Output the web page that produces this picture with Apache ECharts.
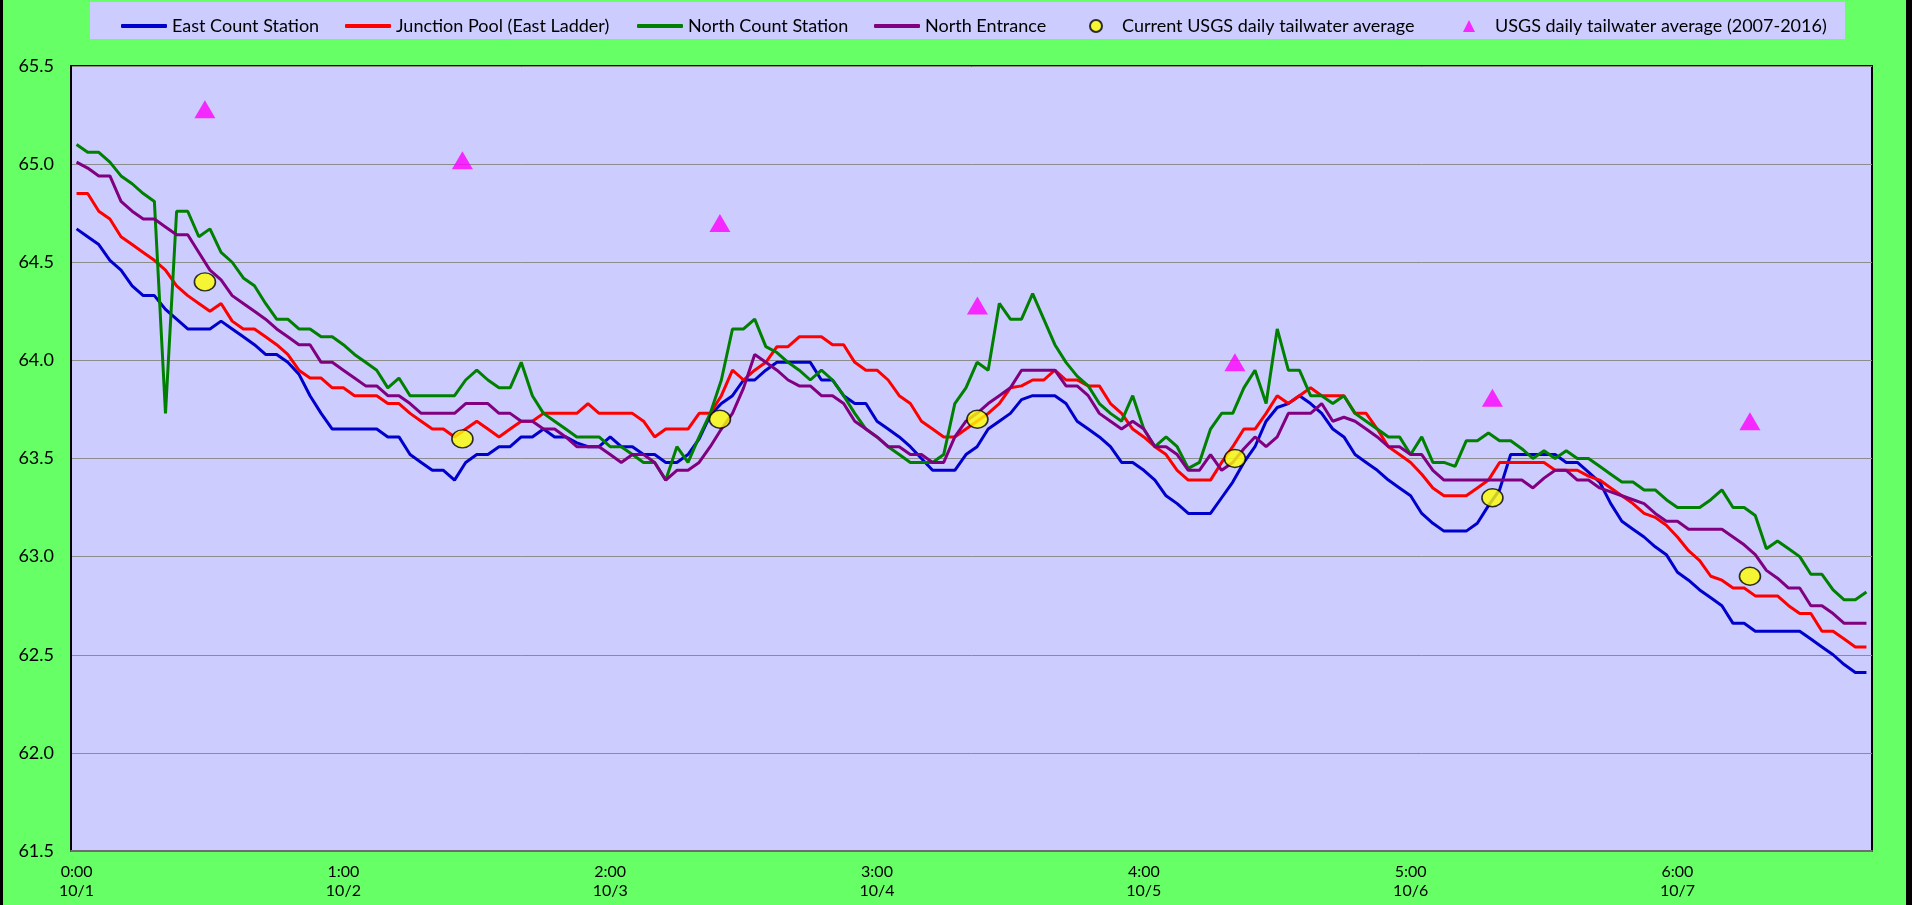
<!DOCTYPE html>
<html>
<head>
<meta charset="utf-8">
<script src="https://cdn.jsdelivr.net/npm/echarts/dist/echarts.min.js"></script>
<style>
  html, body { margin: 0; padding: 0; background: #000; }
  #chart { position: absolute; left: 3px; top: 0; width: 1903px; height: 905px; background: #66ff66; }
</style>
</head>
<body>
<div id="chart"></div>
<script>
// hourly readings, 10/1 0:00 onwards
const tickLabels = ['0:00\n10/1', '1:00\n10/2', '2:00\n10/3', '3:00\n10/4', '4:00\n10/5', '5:00\n10/6', '6:00\n10/7']
const dayIndex = [0, 1, 2, 3, 4, 5, 6]

const eastCount = [
  64.67, 64.63, 64.59, 64.51, 64.46, 64.38, 64.33, 64.33, 64.26, 64.21,
  64.16, 64.16, 64.16, 64.20, 64.16, 64.12, 64.08, 64.03, 64.03, 63.99,
  63.93, 63.82, 63.73, 63.65, 63.65, 63.65, 63.65, 63.65, 63.61, 63.61,
  63.52, 63.48, 63.44, 63.44, 63.39, 63.48, 63.52, 63.52, 63.56, 63.56,
  63.61, 63.61, 63.65, 63.61, 63.61, 63.58, 63.56, 63.56, 63.61, 63.56,
  63.56, 63.52, 63.52, 63.48, 63.48, 63.52, 63.60, 63.72, 63.78, 63.82,
  63.90, 63.90, 63.95, 63.99, 63.99, 63.99, 63.99, 63.90, 63.90, 63.82,
  63.78, 63.78, 63.69, 63.65, 63.61, 63.56, 63.50, 63.44, 63.44, 63.44,
  63.52, 63.56, 63.65, 63.69, 63.73, 63.80, 63.82, 63.82, 63.82, 63.78,
  63.69, 63.65, 63.61, 63.56, 63.48, 63.48, 63.44, 63.39, 63.31, 63.27,
  63.22, 63.22, 63.22, 63.30, 63.38, 63.48, 63.56, 63.69, 63.76, 63.78,
  63.82, 63.78, 63.73, 63.65, 63.61, 63.52, 63.48, 63.44, 63.39, 63.35,
  63.31, 63.22, 63.17, 63.13, 63.13, 63.13, 63.17, 63.26, 63.34, 63.52,
  63.52, 63.52, 63.52, 63.52, 63.48, 63.48, 63.43, 63.38, 63.27, 63.18,
  63.14, 63.10, 63.05, 63.01, 62.92, 62.88, 62.83, 62.79, 62.75, 62.66,
  62.66, 62.62, 62.62, 62.62, 62.62, 62.62, 62.58, 62.54, 62.50, 62.45,
  62.41, 62.41
]

const junctionPool = [
  64.85, 64.85, 64.76, 64.72, 64.63, 64.59, 64.55, 64.51, 64.46, 64.38,
  64.33, 64.29, 64.25, 64.29, 64.20, 64.16, 64.16, 64.12, 64.08, 64.03,
  63.95, 63.91, 63.91, 63.86, 63.86, 63.82, 63.82, 63.82, 63.78, 63.78,
  63.73, 63.69, 63.65, 63.65, 63.61, 63.65, 63.69, 63.65, 63.61, 63.65,
  63.69, 63.69, 63.73, 63.73, 63.73, 63.73, 63.78, 63.73, 63.73, 63.73,
  63.73, 63.69, 63.61, 63.65, 63.65, 63.65, 63.73, 63.73, 63.82, 63.95,
  63.90, 63.95, 63.99, 64.07, 64.07, 64.12, 64.12, 64.12, 64.08, 64.08,
  63.99, 63.95, 63.95, 63.90, 63.82, 63.78, 63.69, 63.65, 63.61, 63.61,
  63.65, 63.69, 63.73, 63.78, 63.86, 63.87, 63.90, 63.90, 63.95, 63.90,
  63.90, 63.87, 63.87, 63.78, 63.73, 63.65, 63.61, 63.56, 63.52, 63.44,
  63.39, 63.39, 63.39, 63.48, 63.56, 63.65, 63.65, 63.73, 63.82, 63.78,
  63.82, 63.86, 63.82, 63.82, 63.82, 63.73, 63.73, 63.65, 63.56, 63.52,
  63.48, 63.42, 63.35, 63.31, 63.31, 63.31, 63.35, 63.39, 63.48, 63.48,
  63.48, 63.48, 63.48, 63.44, 63.44, 63.44, 63.41, 63.39, 63.35, 63.31,
  63.27, 63.22, 63.20, 63.16, 63.10, 63.03, 62.98, 62.90, 62.88, 62.84,
  62.84, 62.80, 62.80, 62.80, 62.75, 62.71, 62.71, 62.62, 62.62, 62.58,
  62.54, 62.54
]

const northCount = [
  65.10, 65.06, 65.06, 65.01, 64.94, 64.90, 64.85, 64.81, 63.73, 64.76,
  64.76, 64.63, 64.67, 64.55, 64.50, 64.42, 64.38, 64.29, 64.21, 64.21,
  64.16, 64.16, 64.12, 64.12, 64.08, 64.03, 63.99, 63.95, 63.86, 63.91,
  63.82, 63.82, 63.82, 63.82, 63.82, 63.90, 63.95, 63.90, 63.86, 63.86,
  63.99, 63.82, 63.73, 63.69, 63.65, 63.61, 63.61, 63.61, 63.56, 63.56,
  63.52, 63.48, 63.48, 63.39, 63.56, 63.48, 63.61, 63.73, 63.90, 64.16,
  64.16, 64.21, 64.07, 64.04, 63.99, 63.95, 63.90, 63.95, 63.90, 63.82,
  63.73, 63.65, 63.61, 63.56, 63.52, 63.48, 63.48, 63.48, 63.52, 63.78,
  63.86, 63.99, 63.95, 64.29, 64.21, 64.21, 64.34, 64.21, 64.08, 63.99,
  63.92, 63.87, 63.78, 63.73, 63.69, 63.82, 63.65, 63.56, 63.61, 63.56,
  63.45, 63.48, 63.65, 63.73, 63.73, 63.86, 63.95, 63.78, 64.16, 63.95,
  63.95, 63.82, 63.82, 63.78, 63.82, 63.73, 63.69, 63.65, 63.61, 63.61,
  63.52, 63.61, 63.48, 63.48, 63.46, 63.59, 63.59, 63.63, 63.59, 63.59,
  63.55, 63.50, 63.54, 63.50, 63.54, 63.50, 63.50, 63.46, 63.42, 63.38,
  63.38, 63.34, 63.34, 63.29, 63.25, 63.25, 63.25, 63.29, 63.34, 63.25,
  63.25, 63.21, 63.04, 63.08, 63.04, 63.00, 62.91, 62.91, 62.83, 62.78,
  62.78, 62.82
]

const northEntrance = [
  65.01, 64.98, 64.94, 64.94, 64.81, 64.76, 64.72, 64.72, 64.68, 64.64,
  64.64, 64.55, 64.46, 64.41, 64.33, 64.29, 64.25, 64.21, 64.16, 64.12,
  64.08, 64.08, 63.99, 63.99, 63.95, 63.91, 63.87, 63.87, 63.82, 63.82,
  63.78, 63.73, 63.73, 63.73, 63.73, 63.78, 63.78, 63.78, 63.73, 63.73,
  63.69, 63.69, 63.65, 63.65, 63.61, 63.56, 63.56, 63.56, 63.52, 63.48,
  63.52, 63.52, 63.48, 63.39, 63.44, 63.44, 63.48, 63.56, 63.65, 63.73,
  63.86, 64.03, 63.99, 63.95, 63.90, 63.87, 63.87, 63.82, 63.82, 63.78,
  63.69, 63.65, 63.61, 63.56, 63.56, 63.52, 63.52, 63.48, 63.48, 63.61,
  63.69, 63.73, 63.78, 63.82, 63.86, 63.95, 63.95, 63.95, 63.95, 63.87,
  63.87, 63.82, 63.73, 63.69, 63.65, 63.69, 63.65, 63.56, 63.56, 63.52,
  63.44, 63.44, 63.52, 63.44, 63.48, 63.55, 63.61, 63.56, 63.61, 63.73,
  63.73, 63.73, 63.78, 63.69, 63.71, 63.69, 63.65, 63.61, 63.56, 63.56,
  63.52, 63.52, 63.44, 63.39, 63.39, 63.39, 63.39, 63.39, 63.39, 63.39,
  63.39, 63.35, 63.40, 63.44, 63.44, 63.39, 63.39, 63.35, 63.33, 63.31,
  63.29, 63.27, 63.22, 63.18, 63.18, 63.14, 63.14, 63.14, 63.14, 63.10,
  63.06, 63.01, 62.93, 62.89, 62.84, 62.84, 62.75, 62.75, 62.71, 62.66,
  62.66, 62.66
]

// daily markers
const usgsCurrent = [64.4, 63.6, 63.7, 63.7, 63.5, 63.3, 62.9]
const usgsAverage = [65.28, 65.02, 64.70, 64.28, 63.99, 63.81, 63.69]

const hours = eastCount.map((_, i) => i)
const font = 'Lato'

const chart = echarts.init(document.getElementById('chart'))

// one legend per entry so each sits where Excel put it
function legendItem(name, icon, left, w, h, pad) {
  return {
    data: [{ name: name, icon: icon }],
    left: left,
    top: 10,
    itemWidth: w,
    itemHeight: h,
    selectedMode: false,
    textStyle: { fontFamily: font, fontSize: 18, lineHeight: 22, color: '#000', padding: [0, 0, 0, pad] },
  }
}

const option = {
  animation: false,
  graphic: [
    {
      type: 'rect',
      left: 87,
      top: 2,
      shape: { width: 1755, height: 37 },
      style: { fill: '#ccccff' },
      z: 0,
    },
  ],
  legend: [
    legendItem('East Count Station', 'roundRect', 113, 46, 4, 0),
    legendItem('Junction Pool (East Ladder)', 'roundRect', 337, 46, 4, 0),
    legendItem('North Count Station', 'roundRect', 629, 46, 4, 0),
    legendItem('North Entrance', 'roundRect', 866, 46, 4, 0),
    legendItem('Current USGS daily tailwater average', 'circle', 1081, 12, 12, 15),
    legendItem('USGS daily tailwater average (2007-2016)', 'triangle', 1455, 12, 12, 15),
  ],
  grid: {
    left: 68,
    right: 34,
    top: 66,
    bottom: 54,
    show: true,
    backgroundColor: '#ccccff',
    borderColor: '#000',
    borderWidth: 2,
  },
  xAxis: [
    {
      type: 'category',
      data: hours,
      boundaryGap: true,
      z: 3,
      axisLine: { lineStyle: { color: '#6e6e6e', width: 2 } },
      axisTick: { show: false },
      axisLabel: {
        interval: (i) => i % 24 === 0,
        formatter: (v, i) => tickLabels[i / 24],
        fontFamily: font,
        fontSize: 16,
        lineHeight: 19,
        margin: 11,
        color: '#000',
      },
    },
    {
      // secondary day axis used by the daily USGS markers
      type: 'value',
      min: -0.52,
      max: 6.474,
      show: false,
    },
  ],
  yAxis: {
    type: 'value',
    min: 61.5,
    max: 65.5,
    interval: 0.5,
    z: 3,
    axisLine: { show: true, onZero: false, lineStyle: { color: '#000', width: 2 } },
    axisTick: { show: false },
    axisLabel: {
      formatter: (v) => v.toFixed(1),
      fontFamily: font,
      fontSize: 18,
      margin: 17,
      color: '#000',
    },
    splitLine: { lineStyle: { color: '#8c8c8c', width: 1 } },
  },
  series: [
    {
      name: 'East Count Station',
      type: 'line',
      data: eastCount,
      symbol: 'none',
      lineStyle: { width: 3, color: '#0000cc' },
      itemStyle: { color: '#0000cc' },
    },
    {
      name: 'Junction Pool (East Ladder)',
      type: 'line',
      data: junctionPool,
      symbol: 'none',
      lineStyle: { width: 3, color: '#ff0000' },
      itemStyle: { color: '#ff0000' },
    },
    {
      name: 'North Count Station',
      type: 'line',
      data: northCount,
      symbol: 'none',
      lineStyle: { width: 3, color: '#008000' },
      itemStyle: { color: '#008000' },
    },
    {
      name: 'North Entrance',
      type: 'line',
      data: northEntrance,
      symbol: 'none',
      lineStyle: { width: 3, color: '#800080' },
      itemStyle: { color: '#800080' },
    },
    {
      name: 'Current USGS daily tailwater average',
      type: 'scatter',
      xAxisIndex: 1,
      data: dayIndex.map((d, i) => [d, usgsCurrent[i]]),
      symbol: 'circle',
      symbolSize: [21, 18],
      itemStyle: { color: '#ffff00', borderColor: '#000', borderWidth: 1.5 },
      z: 5,
    },
    {
      name: 'USGS daily tailwater average (2007-2016)',
      type: 'scatter',
      xAxisIndex: 1,
      data: dayIndex.map((d, i) => [d, usgsAverage[i]]),
      symbol: 'triangle',
      symbolSize: [21, 18],
      itemStyle: { color: '#ff00ff' },
      z: 5,
    },
  ],
}

chart.setOption(option)
window.addEventListener('resize', () => chart.resize())
</script>
</body>
</html>
